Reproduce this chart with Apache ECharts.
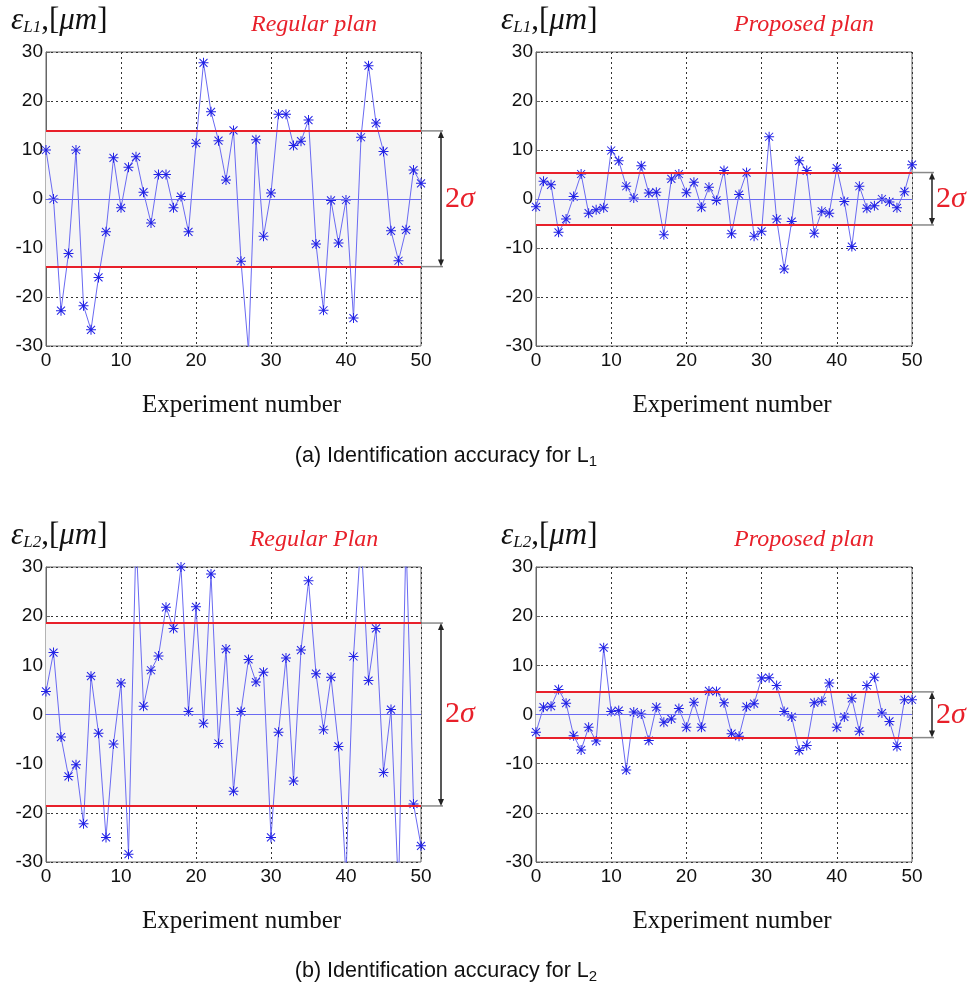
<!DOCTYPE html>
<html>
<head>
<meta charset="utf-8">
<script src="https://cdn.jsdelivr.net/npm/echarts@6/dist/echarts.min.js"></script>
<style>
  html, body { margin: 0; padding: 0; background: #fff; }
  #chart { width: 971px; height: 988px; }
</style>
</head>
<body>
<div id="chart"></div>
<script>
// experiment numbers 0..50 on the x axis
const xTicks = [0, 10, 20, 30, 40, 50];
const yTicks = [-30, -20, -10, 0, 10, 20, 30];

// identification error, micrometres
const l1Regular = [10, 0, -22.8, -11.1, 10, -21.8, -26.7, -16, -6.7, 8.4, -1.8, 6.5, 8.6, 1.4, -4.9, 5, 5, -1.8, 0.5, -6.7,
  11.4, 27.8, 17.8, 11.9, 3.9, 14, -12.7, -31, 12.1, -7.6, 1.2, 17.3, 17.3, 10.9, 11.8, 16.1, -9.2, -22.7, -0.3, -9,
  -0.2, -24.3, 12.6, 27.2, 15.5, 9.7, -6.5, -12.6, -6.3, 5.9, 3.2];
const l1Proposed = [-1.6, 3.6, 2.9, -6.8, -4.1, 0.5, 5.1, -2.9, -2.2, -1.8, 9.9, 7.8, 2.6, 0.2, 6.8, 1.2, 1.4, -7.3, 4.1, 5.1,
  1.3, 3.4, -1.7, 2.4, -0.3, 5.8, -7.1, 0.9, 5.4, -7.6, -6.6, 12.7, -4.1, -14.3, -4.6, 7.8, 5.8, -7, -2.5, -2.9,
  6.3, -0.5, -9.7, 2.6, -1.9, -1.4, 0, -0.6, -1.8, 1.5, 7];
const l2Regular = [4.7, 12.6, -4.6, -12.6, -10.2, -22.2, 7.8, -3.8, -25, -6, 6.4, -28.4, 36, 1.7, 9, 11.9, 21.8, 17.5, 30, 0.6,
  21.9, -1.8, 28.6, -5.9, 13.3, -15.6, 0.6, 11.2, 6.6, 8.6, -25, -3.6, 11.5, -13.5, 13.1, 27.2, 8.3, -3.1, 7.6, -6.5,
  -33, 11.8, 36, 6.9, 17.5, -11.8, 1, -36, 36, -18.2, -26.7];
const l2Proposed = [-3.6, 1.5, 1.7, 5.1, 2.3, -4.3, -7.2, -2.6, -5.4, 13.6, 0.6, 0.8, -11.3, 0.5, 0.1, -5.3, 1.5, -1.6, -0.9, 1.2,
  -2.6, 2.5, -2.6, 4.8, 4.7, 2.4, -3.9, -4.4, 1.6, 2.2, 7.4, 7.5, 5.9, 0.6, -0.5, -7.3, -6.3, 2.4, 2.7, 6.4,
  -2.6, -0.5, 3.3, -3.4, 5.9, 7.6, 0.3, -1.4, -6.5, 3, 3];

// +/- sigma bounds [lower, upper]
const l1RegularBand = [-13.8, 13.9];
const l1ProposedBand = [-5.3, 5.4];
const l2RegularBand = [-18.6, 18.6];
const l2ProposedBand = [-4.7, 4.6];

const panelTitles = ['Regular plan', 'Proposed plan', 'Regular Plan', 'Proposed plan'];

const panels = [
  {data: l1Regular, band: l1RegularBand, grid: {left: 46, top: 52, width: 375, height: 294}},
  {data: l1Proposed, band: l1ProposedBand, grid: {left: 536, top: 52, width: 376, height: 294}},
  {data: l2Regular, band: l2RegularBand, grid: {left: 46, top: 567, width: 375, height: 295}},
  {data: l2Proposed, band: l2ProposedBand, grid: {left: 536, top: 567, width: 376, height: 295}}
];

// MATLAB-like asterisk marker
const star = 'path://M9 0L11 0L11 20L9 20Z M0 9L20 9L20 11L0 11Z ' +
  'M1.3 2.7L2.7 1.3L18.7 17.3L17.3 18.7Z M17.3 1.3L18.7 2.7L2.7 18.7L1.3 17.3Z';

const chart = echarts.init(document.getElementById('chart'));

const tickFont = {color: '#111', fontSize: 19, fontFamily: 'Liberation Sans, Arial, sans-serif'};

const grid = panels.map(p => Object.assign({show: true, borderColor: '#666', borderWidth: 1, backgroundColor: '#fff'}, p.grid));

const xAxis = panels.map((p, i) => ({
  type: 'value', gridIndex: i, min: 0, max: 50, interval: 10,
  axisLine: {show: true, lineStyle: {color: '#666'}},
  axisTick: {inside: true, length: 4, lineStyle: {color: '#666'}},
  axisLabel: Object.assign({margin: 5}, tickFont),
  splitLine: {show: true, lineStyle: {color: '#333', type: [2, 3], width: 1}}
}));

const yAxis = panels.map((p, i) => ({
  type: 'value', gridIndex: i, min: -30, max: 30, interval: 10,
  axisLine: {show: true, lineStyle: {color: '#666'}},
  axisTick: {inside: true, length: 4, lineStyle: {color: '#666'}},
  axisLabel: Object.assign({margin: 3}, tickFont),
  splitLine: {show: true, lineStyle: {color: '#333', type: [2, 3], width: 1}}
}));

const series = panels.map((p, i) => ({
  type: 'line', xAxisIndex: i, yAxisIndex: i,
  data: p.data.map((v, k) => [k, v]),
  clip: true,
  symbol: star, symbolSize: 10,
  itemStyle: {color: '#2323e6'},
  lineStyle: {color: '#6a6af2', width: 1},
  animation: false,
  markArea: {
    silent: true,
    itemStyle: {color: '#f5f5f5'},
    data: [[{yAxis: p.band[0]}, {yAxis: p.band[1]}]]
  },
  markLine: {
    silent: true, symbol: 'none', label: {show: false},
    data: [
      {yAxis: p.band[1], lineStyle: {color: '#e8202a', width: 2, type: 'solid'}},
      {yAxis: p.band[0], lineStyle: {color: '#e8202a', width: 2, type: 'solid'}},
      {yAxis: 0, lineStyle: {color: '#6a6af2', width: 1, type: 'solid'}}
    ]
  }
}));

const yNames = ['L1', 'L1', 'L2', 'L2'];
const serif = 'Liberation Serif, serif';
const title = [];
panels.forEach((p, i) => {
  const g = p.grid;
  title.push({
    text: '{e|ε}{s|' + yNames[i] + '}{c|,[}{e|μm}{c|]}',
    left: g.left - 40, top: g.top - 52,
    textStyle: {
      fontWeight: 'normal',
      rich: {
        e: {fontFamily: serif, fontStyle: 'italic', fontWeight: 'normal', fontSize: 31, color: '#111'},
        s: {fontFamily: serif, fontStyle: 'italic', fontWeight: 'normal', fontSize: 17, color: '#111', padding: [14, 0, 0, 0]},
        c: {fontFamily: serif, fontWeight: 'normal', fontSize: 31, color: '#111'}
      }
    }
  });
  title.push({
    text: panelTitles[i],
    left: g.left + 263, top: g.top - 44, textAlign: 'center',
    textStyle: {fontFamily: serif, fontStyle: 'italic', fontWeight: 'normal', fontSize: 24, color: '#e8202a'}
  });
  title.push({
    text: 'Experiment number',
    left: g.left + g.width / 2 + 3, top: g.top + g.height + 42, textAlign: 'center',
    textStyle: {fontFamily: serif, fontWeight: 'normal', fontSize: 25, color: '#111'}
  });
});
const captions = ['(a) Identification accuracy for L{sub|1}', '(b) Identification accuracy for L{sub|2}'];
captions.forEach((c, j) => {
  title.push({
    text: c, left: 441, top: 439 + j * 515, textAlign: 'center',
    textStyle: {
      fontFamily: 'Liberation Sans, Arial, sans-serif', fontWeight: 'normal', fontSize: 21.5, color: '#111',
      rich: {sub: {fontFamily: 'Liberation Sans, Arial, sans-serif', fontSize: 15, color: '#111', padding: [10, 0, 0, 0]}}
    }
  });
});

chart.setOption({animation: false, title, grid, xAxis, yAxis, series});

// 2-sigma brackets, placed from the band values through the axes
const graphic = [];
panels.forEach((p, i) => {
  const hi = chart.convertToPixel({gridIndex: i}, [50, p.band[1]]);
  const lo = chart.convertToPixel({gridIndex: i}, [50, p.band[0]]);
  const bx = hi[0] + 20;
  graphic.push(
    {type: 'line', shape: {x1: hi[0], y1: hi[1], x2: bx + 2, y2: hi[1]}, style: {stroke: '#888', lineWidth: 1.5}},
    {type: 'line', shape: {x1: lo[0], y1: lo[1], x2: bx + 2, y2: lo[1]}, style: {stroke: '#888', lineWidth: 1.5}},
    {type: 'line', shape: {x1: bx, y1: hi[1] + 6, x2: bx, y2: lo[1] - 6}, style: {stroke: '#222', lineWidth: 1.5}},
    {type: 'polygon', shape: {points: [[bx - 3, hi[1] + 7], [bx + 3, hi[1] + 7], [bx, hi[1]]]}, style: {fill: '#222'}},
    {type: 'polygon', shape: {points: [[bx - 3, lo[1] - 7], [bx + 3, lo[1] - 7], [bx, lo[1]]]}, style: {fill: '#222'}},
    {type: 'text', x: bx + 4, y: (hi[1] + lo[1]) / 2,
      style: {text: '{n|2}{g|σ}', verticalAlign: 'middle',
        rich: {
          n: {fontFamily: serif, fontSize: 30, fill: '#e8202a'},
          g: {fontFamily: serif, fontStyle: 'italic', fontSize: 30, fill: '#e8202a'}
        }}}
  );
});
chart.setOption({graphic});
</script>
</body>
</html>
